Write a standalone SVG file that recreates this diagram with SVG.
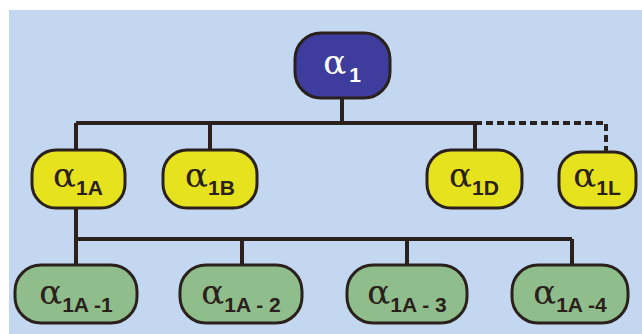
<svg xmlns="http://www.w3.org/2000/svg" width="642" height="334" viewBox="0 0 642 334">
<style>
.node rect{stroke:#2b211c;stroke-width:3}
.root rect{fill:#3e3c9c}
.y rect{fill:#e6e21e}
.g rect{fill:#8fbd8b}
.node text{font-family:"Liberation Sans","DejaVu Sans",sans-serif;text-anchor:middle;fill:#2b211c}
.root text{fill:#ffffff}
.a{font-family:"DejaVu Serif","Liberation Serif",serif;font-size:34px}
.s{font-weight:bold;font-size:21px}
.c{stroke:#2b211c;stroke-width:4;fill:none}
.d{stroke-dasharray:7 4}
</style>
<rect x="0" y="0" width="642" height="334" fill="#ffffff"/>
<rect x="9" y="10" width="633" height="324" fill="#c4d7f1"/>
<g id="connectors">
<path class="c" d="M342 98V123M76 123H475M76 123V150M210 123V150M475 123V150"/>
<path class="c d" d="M475 123H606V152"/>
<path class="c" d="M76 208V239M76 239H572M76 239V265M242 239V265M407 239V265M572 239V265"/>
</g>
<g id="a1" class="node root"><rect x="295" y="33" width="95" height="65" rx="26"/><text x="342" y="74"><tspan class="a">α</tspan><tspan class="s" dx="3" dy="8" font-size="24">1</tspan></text></g>
<g id="a1A" class="node y"><rect x="32" y="150" width="93" height="58" rx="24"/><text x="78" y="187"><tspan class="a">α</tspan><tspan class="s" dy="8">1A</tspan></text></g>
<g id="a1B" class="node y"><rect x="163" y="150" width="94" height="58" rx="24"/><text x="210" y="187"><tspan class="a">α</tspan><tspan class="s" dy="8">1B</tspan></text></g>
<g id="a1D" class="node y"><rect x="427" y="150" width="95" height="58" rx="24"/><text x="474" y="187"><tspan class="a">α</tspan><tspan class="s" dy="8">1D</tspan></text></g>
<g id="a1L" class="node y"><rect x="559" y="152" width="77" height="56" rx="22"/><text x="597" y="187"><tspan class="a">α</tspan><tspan class="s" dy="8">1L</tspan></text></g>
<g id="a1A-1" class="node g"><rect x="15" y="265" width="122" height="58" rx="26"/><text x="76" y="304"><tspan class="a">α</tspan><tspan class="s" dy="8">1A -1</tspan></text></g>
<g id="a1A-2" class="node g"><rect x="180" y="265" width="122" height="58" rx="26"/><text x="241" y="304"><tspan class="a">α</tspan><tspan class="s" dy="8">1A - 2</tspan></text></g>
<g id="a1A-3" class="node g"><rect x="347" y="265" width="120" height="58" rx="26"/><text x="407" y="304"><tspan class="a">α</tspan><tspan class="s" dy="8">1A - 3</tspan></text></g>
<g id="a1A-4" class="node g"><rect x="512" y="265" width="116" height="58" rx="26"/><text x="570" y="304"><tspan class="a">α</tspan><tspan class="s" dy="8">1A -4</tspan></text></g>
</svg>
